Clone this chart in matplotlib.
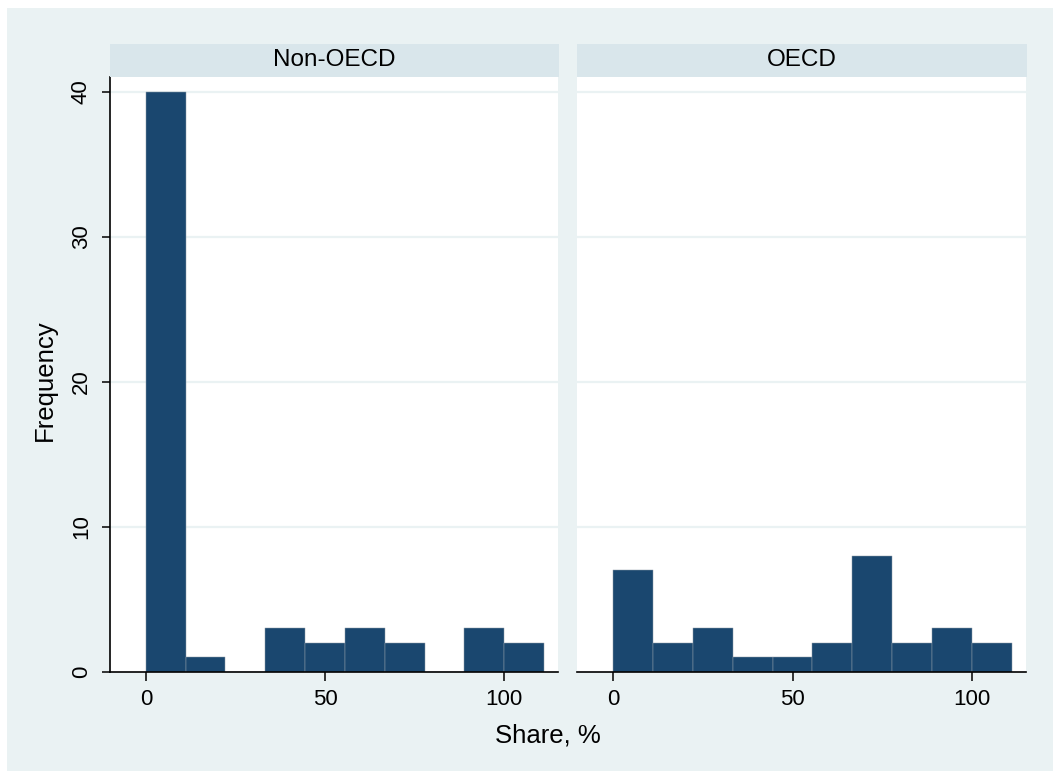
import numpy as np
import matplotlib
matplotlib.use("Agg")
import matplotlib.pyplot as plt
from matplotlib.patches import Rectangle

plt.rcParams["font.family"] = ["Liberation Sans", "DejaVu Sans"]

# histogram bins: 10 bins of equal width from 0 to ~111.1
bin_width = 111.11 / 10
bin_left = np.arange(10) * bin_width

groups = ["Non-OECD", "OECD"]
counts_non_oecd = [40, 1, 0, 3, 2, 3, 2, 0, 3, 2]
counts_oecd = [7, 2, 3, 1, 1, 2, 8, 2, 3, 2]
x_ticks = [0, 50, 100]
y_ticks = [0, 10, 20, 30, 40]

BG = "#EAF2F3"
STRIP = "#D9E6EB"
BAR = "#1A476F"
GRID = "#EAF2F3"

W, H = 1053, 771
fig = plt.figure(figsize=(W / 100, H / 100), dpi=100)
fig.patch.set_facecolor("white")
fig.patches.append(Rectangle((7 / W, 0), 1 - 7 / W, 1 - 8 / H,
                             transform=fig.transFigure, facecolor=BG,
                             edgecolor="none", zorder=-10))


def px(x0, y_top, x1, y_bot):
    """Pixel box -> figure-fraction rect."""
    return [x0 / W, 1 - y_bot / H, (x1 - x0) / W, (y_bot - y_top) / H]


panels = [(110, 558), (577, 1026)]
for i, (name, counts, (x0, x1)) in enumerate(
        zip(groups, [counts_non_oecd, counts_oecd], panels)):
    ax = fig.add_axes(px(x0, 77, x1, 672))
    ax.set_facecolor("white")
    ax.bar(bin_left, counts, width=bin_width, align="edge", color=BAR,
           edgecolor="#8d9aa8", linewidth=0.35, zorder=3)
    ax.set_xlim(-10, 115)
    ax.set_ylim(0, 41)
    ax.set_yticks(y_ticks)
    ax.set_xticks(x_ticks)
    for y in y_ticks[1:]:
        ax.axhline(y, color=GRID, lw=1.6, zorder=1)
    for s in ("top", "right"):
        ax.spines[s].set_visible(False)
    ax.spines["bottom"].set_linewidth(1.2)
    ax.spines["bottom"].set_zorder(4)
    ax.tick_params(axis="x", length=6.5, width=1.1, pad=6, labelsize=16)
    if i == 0:
        ax.spines["left"].set_linewidth(1.2)
        ax.tick_params(axis="y", length=6, width=1.1, pad=7, labelsize=16)
        for lab in ax.get_yticklabels():
            lab.set_rotation(90)
            lab.set_va("center")
    else:
        ax.spines["left"].set_visible(False)
        ax.tick_params(axis="y", left=False, labelleft=False)

    st = fig.add_axes(px(x0, 44, x1 + 1, 77))
    st.set_facecolor(STRIP)
    st.set_xticks([])
    st.set_yticks([])
    for s in st.spines.values():
        s.set_visible(False)
    st.text(0.5, 0.5, name, ha="center", va="center", fontsize=17.5,
            transform=st.transAxes)

fig.text(548 / W, 1 - 735 / H, "Share, %", ha="center", va="center",
         fontsize=18.5)
fig.text(45 / W, 1 - 380 / H, "Frequency", ha="center", va="center",
         rotation=90, fontsize=18.5)

fig.savefig("out.png", dpi=100)
